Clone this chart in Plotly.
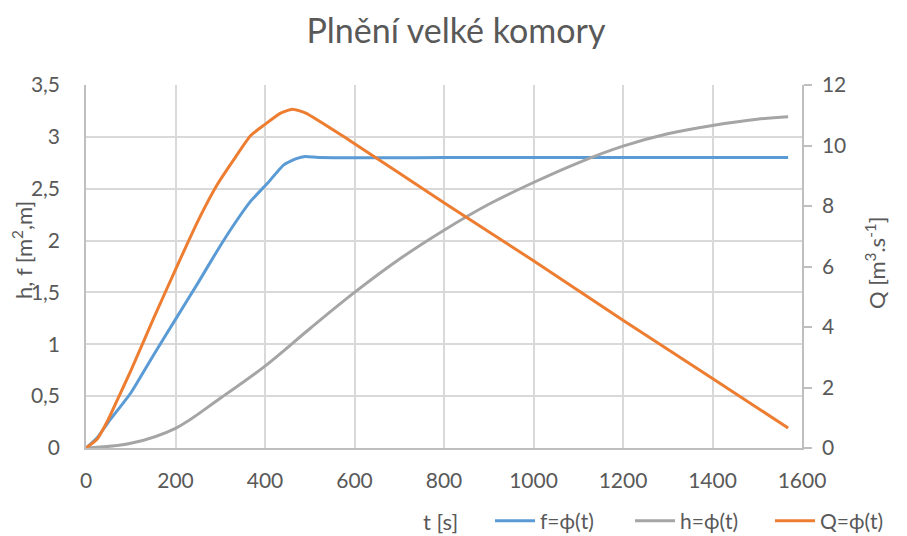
import plotly.graph_objects as go

# ---- data ----
t_f = [0, 25, 50, 100, 150, 200, 250, 293, 330, 368, 405, 442, 470, 490, 520, 800, 1200, 1569]
f_vals = [0, 0.10, 0.25, 0.53, 0.89, 1.24, 1.59, 1.90, 2.15, 2.38, 2.55, 2.73, 2.79, 2.81, 2.80, 2.80, 2.80, 2.80]

t_h = [0, 100, 200, 300, 400, 500, 600, 700, 800, 900, 1000, 1100, 1200, 1300, 1400, 1500, 1569]
h_vals = [0, 0.045, 0.19, 0.48, 0.79, 1.15, 1.50, 1.82, 2.10, 2.35, 2.56, 2.75, 2.91, 3.03, 3.11, 3.17, 3.195]

t_q = [0, 25, 50, 75, 100, 150, 200, 250, 293, 331, 368, 400, 435, 461, 491, 590, 800, 1000, 1200, 1400, 1569]
q_vals = [0, 0.30, 0.95, 1.75, 2.55, 4.25, 5.90, 7.50, 8.70, 9.55, 10.33, 10.70, 11.07, 11.20, 11.07, 10.16, 8.11, 6.19, 4.22, 2.30, 0.66]

names = ["f=ϕ(t)", "h=ϕ(t)", "Q=ϕ(t)"]
colors = ["#5B9BD5", "#A5A5A5", "#ED7D31"]

title_text = "Plnění velké komory"
x_title = "t [s]"
y_title = "h, f [m<sup>2</sup>,m]"
y2_title = "Q [m<sup>3</sup>.s<sup>-1</sup>]"

FONT = "Lato"
TXT = "#595959"

fig = go.Figure()
fig.add_trace(go.Scatter(x=t_f, y=f_vals, name=names[0], mode="lines",
                         line=dict(color=colors[0], width=3, shape="spline", smoothing=0.5)))
fig.add_trace(go.Scatter(x=t_h, y=h_vals, name=names[1], mode="lines",
                         line=dict(color=colors[1], width=3, shape="spline", smoothing=1.0)))
fig.add_trace(go.Scatter(x=t_q, y=q_vals, name=names[2], mode="lines", yaxis="y2",
                         line=dict(color=colors[2], width=3, shape="spline", smoothing=0.5)))

fig.update_layout(
    width=907, height=536,
    margin=dict(l=86, r=105, t=85, b=88, autoexpand=False),
    paper_bgcolor="white", plot_bgcolor="white",
    separators=", ",
    font=dict(family=FONT, size=21, color=TXT),
    title=dict(text=title_text, x=456 / 907, xanchor="center", y=1 - 31 / 536, yanchor="middle",
               font=dict(family=FONT, size=34, color=TXT)),
    xaxis=dict(range=[0, 1600], dtick=200, tick0=0, showgrid=True, gridcolor="#D9D9D9", gridwidth=1.5,
               showline=True, linecolor="#BFBFBF", linewidth=1.5, zeroline=False,
               ticks="", ticklabelstandoff=13, tickfont=dict(size=21, color=TXT)),
    yaxis=dict(range=[0, 3.5], dtick=0.5, tick0=0, showgrid=True, gridcolor="#D9D9D9", gridwidth=1.5,
               showline=True, linecolor="#BFBFBF", linewidth=1.5, zeroline=False,
               ticks="", ticklabelstandoff=20, tickfont=dict(size=21, color=TXT)),
    yaxis2=dict(range=[0, 12], dtick=2, tick0=0, overlaying="y", side="right", showgrid=False,
                showline=True, linecolor="#BFBFBF", linewidth=1.5, zeroline=False,
                ticks="outside", ticklen=8, tickcolor="#BFBFBF", tickwidth=1.5,
                ticklabelstandoff=6, tickfont=dict(size=21, color=TXT)),
    legend=dict(orientation="h", x=(490 - 86) / 716, xanchor="left", y=(448 - 521) / 363,
                yanchor="middle", font=dict(family=FONT, size=21, color=TXT),
                entrywidth=85, entrywidthmode="pixels", bgcolor="rgba(0,0,0,0)", itemwidth=40),
    showlegend=True,
)

fig.add_annotation(text=x_title, xref="paper", yref="paper", x=(440 - 86) / 716, y=(448 - 521) / 363,
                   xanchor="center", yanchor="middle", showarrow=False,
                   font=dict(family=FONT, size=22, color=TXT))
fig.add_annotation(text=y_title, xref="paper", yref="paper", x=(22 - 86) / 716, y=(448 - 250) / 363,
                   xanchor="center", yanchor="middle", showarrow=False, textangle=-90,
                   font=dict(family=FONT, size=22, color=TXT))
fig.add_annotation(text=y2_title, xref="paper", yref="paper", x=(875 - 86) / 716, y=(448 - 263) / 363,
                   xanchor="center", yanchor="middle", showarrow=False, textangle=-90,
                   font=dict(family=FONT, size=22, color=TXT))

fig.write_html("out.html")
